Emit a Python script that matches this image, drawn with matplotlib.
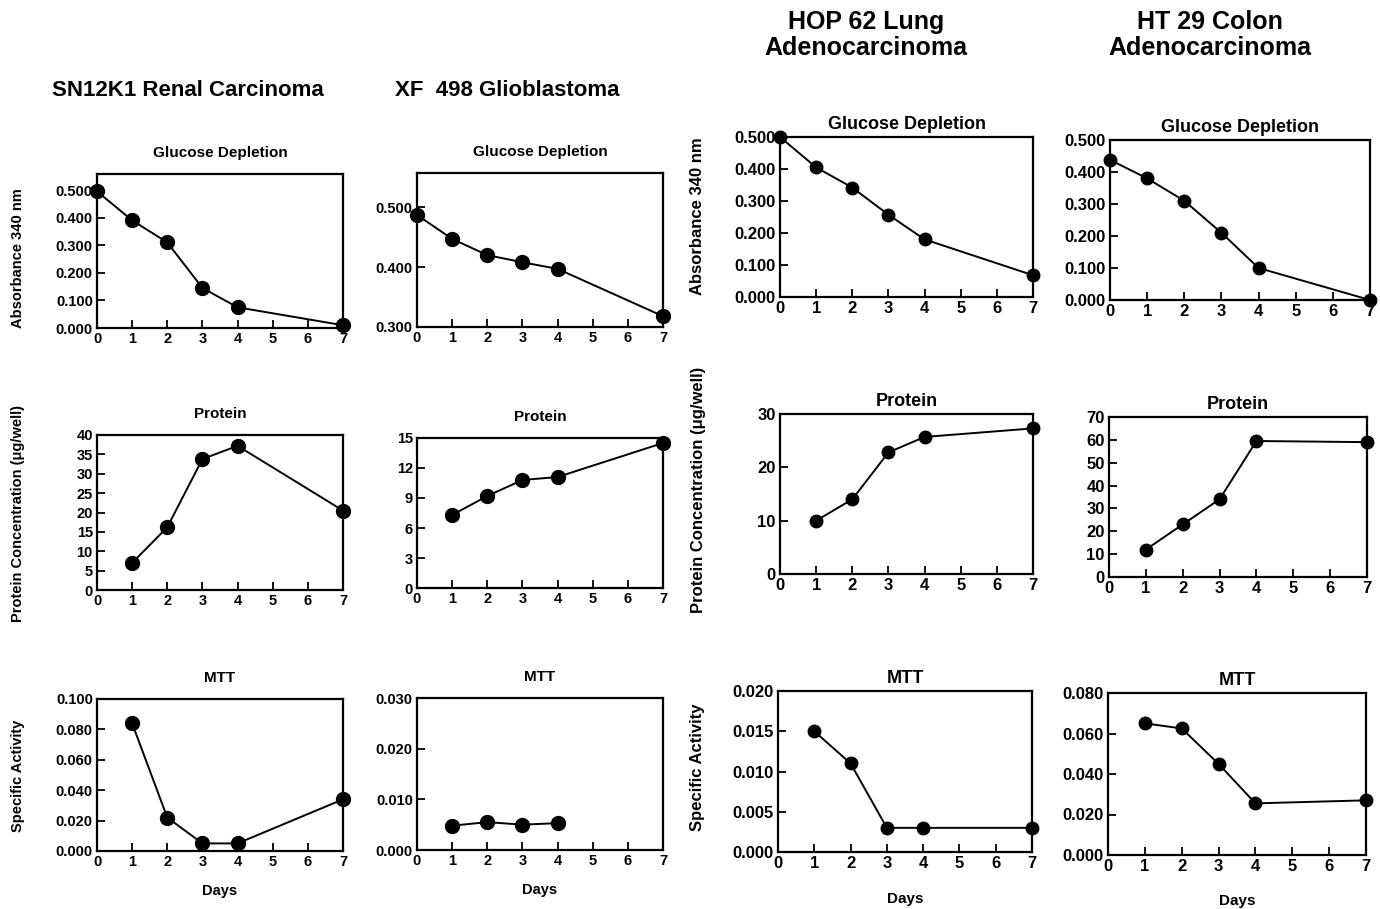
import matplotlib

matplotlib.use("Agg")
import matplotlib.pyplot as plt

plt.rcParams["font.family"] = ["Liberation Sans", "DejaVu Sans"]
plt.rcParams["font.weight"] = "bold"

W, H = 1380, 909

days_glucose = [0, 1, 2, 3, 4, 7]
days_other = [1, 2, 3, 4, 7]
days_xf_mtt = [1, 2, 3, 4]

sn_glucose = [0.495, 0.390, 0.310, 0.145, 0.075, 0.010]
xf_glucose = [0.487, 0.447, 0.420, 0.408, 0.397, 0.318]
hop_glucose = [0.500, 0.405, 0.342, 0.257, 0.180, 0.068]
ht_glucose = [0.438, 0.380, 0.310, 0.210, 0.100, 0.000]

sn_protein = [7.0, 16.2, 33.8, 37.2, 20.5]
xf_protein = [7.3, 9.2, 10.8, 11.1, 14.5]
hop_protein = [10.0, 14.0, 22.8, 25.7, 27.3]
ht_protein = [12.0, 23.0, 34.0, 59.5, 59.0]

sn_mtt = [0.084, 0.022, 0.005, 0.005, 0.034]
xf_mtt = [0.0048, 0.0055, 0.0050, 0.0053]
hop_mtt = [0.015, 0.011, 0.003, 0.003, 0.003]
ht_mtt = [0.065, 0.0625, 0.045, 0.0255, 0.027]

fig = plt.figure(figsize=(W / 100, H / 100), dpi=100)


def px_axes(left, top, right, bottom):
    return fig.add_axes([left / W, 1 - bottom / H, (right - left) / W, (bottom - top) / H])


def panel(box, x, y, ylim, yticks, fmt, title, small):
    ax = px_axes(*box)
    ax.plot(x, y, color="black", lw=1.4, marker="o", ms=10 if small else 9, clip_on=False)
    ax.set_xlim(0, 7)
    ax.set_ylim(*ylim)
    ax.set_xticks(range(8))
    ax.set_yticks(yticks)
    ax.set_yticklabels([fmt.format(v) for v in yticks])
    fs = 10.5 if small else 12
    ax.tick_params(direction="in", length=6, width=1.3, labelsize=fs, pad=3)
    for s in ax.spines.values():
        s.set_linewidth(1.6)
    ax.set_title(title, fontsize=11 if small else 13, fontweight="bold", pad=12 if small else 6)
    return ax


# column 1: SN12K1
panel((97, 174, 343, 328), days_glucose, sn_glucose, (0, 0.558),
      [0, 0.1, 0.2, 0.3, 0.4, 0.5], "{:.3f}", "Glucose Depletion", True)
panel((97, 435, 343, 590), days_other, sn_protein, (0, 40),
      list(range(0, 41, 5)), "{:d}", "Protein", True)
a = panel((97, 699, 343, 851), days_other, sn_mtt, (0, 0.1),
          [0, 0.02, 0.04, 0.06, 0.08, 0.1], "{:.3f}", "MTT", True)
a.set_xlabel("Days", fontsize=10.5, fontweight="bold", labelpad=11)

# column 2: XF 498
panel((417, 173, 663, 327), days_glucose, xf_glucose, (0.3, 0.557),
      [0.3, 0.4, 0.5], "{:.3f}", "Glucose Depletion", True)
panel((417, 438, 663, 588), days_other, xf_protein, (0, 15),
      [0, 3, 6, 9, 12, 15], "{:d}", "Protein", True)
a = panel((417, 698, 663, 850), days_xf_mtt, xf_mtt, (0, 0.03),
          [0, 0.01, 0.02, 0.03], "{:.3f}", "MTT", True)
a.set_xlabel("Days", fontsize=10.5, fontweight="bold", labelpad=11)

# column 3: HOP 62
panel((780, 137, 1033, 297), days_glucose, hop_glucose, (0, 0.5),
      [0, 0.1, 0.2, 0.3, 0.4, 0.5], "{:.3f}", "Glucose Depletion", False)
panel((780, 414, 1033, 574), days_other, hop_protein, (0, 30),
      [0, 10, 20, 30], "{:d}", "Protein", False)
a = panel((778, 691, 1032, 852), days_other, hop_mtt, (0, 0.02),
          [0, 0.005, 0.01, 0.015, 0.02], "{:.3f}", "MTT", False)
a.set_xlabel("Days", fontsize=11, fontweight="bold", labelpad=15)

# column 4: HT 29
panel((1110, 140, 1370, 300), days_glucose, ht_glucose, (0, 0.5),
      [0, 0.1, 0.2, 0.3, 0.4, 0.5], "{:.3f}", "Glucose Depletion", False)
panel((1109, 417, 1367, 577), days_other, ht_protein, (0, 70),
      list(range(0, 71, 10)), "{:d}", "Protein", False)
a = panel((1108, 693, 1366, 855), days_other, ht_mtt, (0, 0.08),
          [0, 0.02, 0.04, 0.06, 0.08], "{:.3f}", "MTT", False)
a.set_xlabel("Days", fontsize=11, fontweight="bold", labelpad=14)

# cell line headers
fig.text(188 / W, 1 - 91 / H, "SN12K1 Renal Carcinoma", ha="center", va="center",
         fontsize=16, fontweight="bold")
fig.text(507 / W, 1 - 91 / H, "XF  498 Glioblastoma", ha="center", va="center",
         fontsize=16, fontweight="bold")
fig.text(866 / W, 1 - 35 / H, "HOP 62 Lung\nAdenocarcinoma", ha="center", va="center",
         fontsize=18, fontweight="bold", linespacing=1.15)
fig.text(1210 / W, 1 - 35 / H, "HT 29 Colon\nAdenocarcinoma", ha="center", va="center",
         fontsize=18, fontweight="bold", linespacing=1.15)

# shared y labels
ylabels = [
    (18, 258, "Absorbance 340 nm", 10.5),
    (18, 514, "Protein Concentration (\u03bcg/well)", 10.5),
    (18, 776, "Specific Activity", 10.5),
    (698, 216, "Absorbance 340 nm", 12),
    (698, 490, "Protein Concentration (\u03bcg/well)", 12),
    (697, 767, "Specific Activity", 12),
]
for x, y, txt, fs in ylabels:
    fig.text(x / W, 1 - y / H, txt, rotation=90, ha="center", va="center",
             fontsize=fs, fontweight="bold")

fig.savefig("out.png", dpi=100)
plt.close(fig)
